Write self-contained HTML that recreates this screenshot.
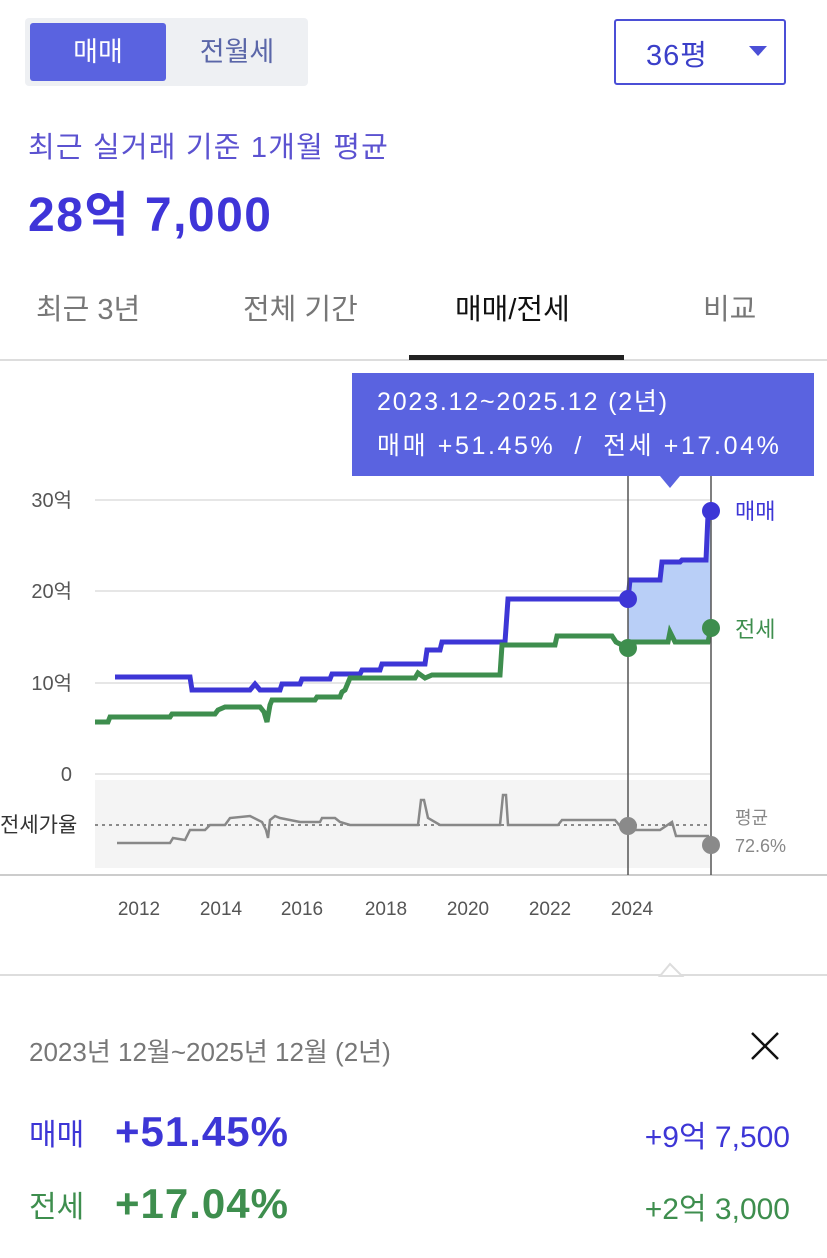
<!DOCTYPE html><html><head><meta charset="utf-8"><style>
body{margin:0;width:827px;height:1258px;background:#fff;font-family:"Liberation Sans","Noto Sans CJK KR",sans-serif;position:relative;overflow:hidden}
.a{position:absolute;white-space:nowrap}
</style></head><body>
<div class="a" style="left:25px;top:18px;width:283px;height:68px;background:#eef0f3;border-radius:4px"></div>
<div class="a" style="left:30px;top:23px;width:136px;height:58px;background:#5a63e0;border-radius:3px;color:#fff;font-size:27px;line-height:58px;text-align:center">매매</div>
<div class="a" style="left:170px;top:23px;width:134px;height:58px;color:#5a66a8;font-size:27px;line-height:58px;text-align:center">전월세</div>
<div class="a" style="left:614px;top:19px;width:172px;height:66px;border:2px solid #4b4fd6;border-radius:3px;box-sizing:border-box"></div>
<div class="a" style="left:646px;top:32px;font-size:29px;color:#3b3fc9;letter-spacing:1px">36평</div>
<div class="a" style="left:749px;top:46px;width:0;height:0;border-left:9px solid transparent;border-right:9px solid transparent;border-top:10px solid #4b4fd6"></div>
<div class="a" style="left:28px;top:124px;font-size:29px;color:#5b52d0;letter-spacing:1.2px">최근 실거래 기준 1개월 평균</div>
<div class="a" style="left:28px;top:175px;font-size:48px;font-weight:bold;color:#3f35d8;letter-spacing:1.5px">28억 7,000</div>
<div class="a" style="left:36px;top:286px;font-size:29px;color:#777">최근 3년</div>
<div class="a" style="left:243px;top:286px;font-size:29px;color:#777">전체 기간</div>
<div class="a" style="left:455px;top:286px;font-size:29px;color:#111">매매/전세</div>
<div class="a" style="left:703px;top:286px;font-size:29px;color:#777">비교</div>
<div class="a" style="left:0;top:359px;width:827px;height:2px;background:#ddd"></div>
<div class="a" style="left:409px;top:355px;width:215px;height:5px;background:#222"></div>
<svg class="a" style="left:0;top:0" width="827" height="1258">
<g stroke="#e6e6e6" stroke-width="2"><line x1="95" y1="500" x2="710" y2="500"/><line x1="95" y1="591" x2="710" y2="591"/><line x1="95" y1="683" x2="710" y2="683"/><line x1="95" y1="774" x2="710" y2="774"/></g>
<rect x="95" y="780" width="615" height="88" fill="#f4f4f4"/>
<line x1="0" y1="875" x2="827" y2="875" stroke="#ccc" stroke-width="2"/>
<g font-size="20" fill="#555" text-anchor="end" font-family="Liberation Sans,Noto Sans CJK KR,sans-serif"><text x="72" y="507">30억</text><text x="72" y="598">20억</text><text x="72" y="690">10억</text><text x="72" y="781">0</text></g>
<text x="0" y="832" font-size="21" fill="#333" font-family="Liberation Sans,Noto Sans CJK KR,sans-serif">전세가율</text>
<line x1="95" y1="825" x2="710" y2="825" stroke="#666" stroke-dasharray="3,4" stroke-width="1.5"/>
<polygon points="628,599 628,580 660,580 662,562 680,562 682,560 706,560 708,511 711,511 711,628 708,642 675,642 670,632 668,642 628,642" fill="#b9cff7"/>
<polyline fill="none" stroke="#3d36d6" stroke-width="5" points="115,677 190,677 192,690 250,690 255,684 260,690 280,690 282,684 300,684 302,679 330,679 332,674 360,674 362,670 380,670 382,664 425,664 427,650 440,650 442,642 505,642 508,599 628,599 630,580 660,580 662,562 680,562 682,560 706,560 708,515 711,511"/>
<polyline fill="none" stroke="#3e8e4e" stroke-width="5" points="95,722 108,722 110,717 170,717 172,714 215,714 218,710 225,707 260,707 264,712 267,722 270,705 272,700 315,700 317,697 340,697 342,692 345,690 350,678 415,678 418,673 425,678 432,675 500,675 502,645 555,645 557,636 612,636 616,642 628,648 632,642 668,642 670,632 675,642 708,642 711,628"/>
<polyline fill="none" stroke="#888" stroke-width="2.5" points="117,843 170,843 173,838 185,840 190,830 205,830 210,825 225,825 230,818 250,816 262,822 266,830 268,838 270,820 275,816 280,818 300,822 320,822 322,818 335,818 340,822 350,825 418,825 421,800 424,800 428,818 440,825 500,825 503,795 506,795 508,825 558,825 562,820 615,820 620,826 628,826 632,830 660,830 672,822 676,836 708,836 711,845"/>
<line x1="628" y1="476" x2="628" y2="875" stroke="#555" stroke-width="1.5"/>
<line x1="711" y1="476" x2="711" y2="875" stroke="#555" stroke-width="1.5"/>
<circle cx="628" cy="599" r="9" fill="#3d36d6"/><circle cx="711" cy="511" r="9" fill="#3d36d6"/>
<circle cx="628" cy="648" r="9" fill="#3e8e4e"/><circle cx="711" cy="628" r="9" fill="#3e8e4e"/>
<circle cx="628" cy="826" r="9" fill="#8a8a8a"/><circle cx="711" cy="845" r="9" fill="#8a8a8a"/>
<g font-family="Liberation Sans,Noto Sans CJK KR,sans-serif"><text x="735" y="519" font-size="22" fill="#3d36d6">매매</text><text x="735" y="637" font-size="22" fill="#3e8e4e">전세</text><text x="735" y="824" font-size="18" fill="#888">평균</text><text x="735" y="852" font-size="18" fill="#888">72.6%</text></g>
<g font-size="19" fill="#555" text-anchor="middle" font-family="Liberation Sans,sans-serif"><text x="139" y="915">2012</text><text x="221" y="915">2014</text><text x="302" y="915">2016</text><text x="386" y="915">2018</text><text x="468" y="915">2020</text><text x="550" y="915">2022</text><text x="632" y="915">2024</text></g>
<rect x="352" y="373" width="462" height="103" fill="#5a63e0"/>
<polygon points="660,476 680,476 670,488" fill="#5a63e0"/>
<g fill="#fff" font-size="25" font-family="Liberation Sans,Noto Sans CJK KR,sans-serif"><text x="377" y="410" letter-spacing="1.8">2023.12~2025.12 (2년)</text><text x="377" y="454" xml:space="preserve" letter-spacing="2.6">매매 +51.45%  /  전세 +17.04%</text></g>
<line x1="0" y1="975" x2="827" y2="975" stroke="#ddd" stroke-width="2"/>
<polygon points="660,976 670,964 682,976" fill="#fff" stroke="#ddd" stroke-width="2"/>
<rect x="0" y="977" width="827" height="281" fill="#fff"/>
<g stroke="#111" stroke-width="2.5"><line x1="752" y1="1033" x2="778" y2="1059"/><line x1="778" y1="1033" x2="752" y2="1059"/></g>
</svg>
<div class="a" style="left:29px;top:1032px;font-size:26px;color:#777">2023년 12월~2025년 12월 (2년)</div>
<div class="a" style="left:29px;top:1110px;font-size:30px;color:#3d36d6">매매</div>
<div class="a" style="left:115px;top:1108px;font-size:42px;font-weight:bold;color:#3d36d6;letter-spacing:1px">+51.45%</div>
<div class="a" style="right:37px;top:1112px;font-size:30px;color:#3d36d6">+9억 7,500</div>
<div class="a" style="left:29px;top:1182px;font-size:30px;color:#3e8e4e">전세</div>
<div class="a" style="left:115px;top:1180px;font-size:42px;font-weight:bold;color:#3e8e4e;letter-spacing:1px">+17.04%</div>
<div class="a" style="right:37px;top:1184px;font-size:30px;color:#3e8e4e">+2억 3,000</div>
</body></html>
